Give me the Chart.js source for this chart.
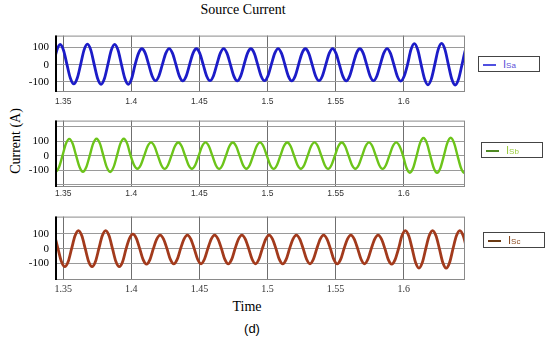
<!DOCTYPE html>
<html lang="en">
<head>
<meta charset="UTF-8">
<title>Source Current</title>
<script src="https://cdn.jsdelivr.net/npm/chart.js"></script>
<style>
  body { margin: 0; width: 550px; height: 341px; background: #fff; position: relative; overflow: hidden; }
  canvas { position: absolute; left: 0; }
  .txt { position: absolute; white-space: nowrap; text-align: center; }
  .serif { font-family: "Liberation Serif", "Times New Roman", serif; color: #000; }
  .legend { position: absolute; border: 1px solid #444; background: #fff; height: 14px; width: 60px; }
  .legend .sw { position: absolute; left: 4px; top: 7px; width: 13px; height: 2px; }
  .legend .lt { position: absolute; left: 24px; top: 0; font: 11px "Liberation Sans", Arial, sans-serif; line-height: 14px; }
  .legend small { font-size: 8px; }
</style>
</head>
<body>
  <div class="txt serif" style="left:193px; top:2px; width:100px; font-size:14px;">Source Current</div>
  <div class="txt serif" style="left:-24px; top:133px; width:80px; height:16px; font-size:14px; transform:rotate(-90deg);">Current (A)</div>
  <div class="txt serif" style="left:217px; top:299px; width:60px; font-size:14px;">Time</div>
  <div class="txt" style="left:232px; top:321px; width:40px; font:13px 'Liberation Sans', Arial, sans-serif;">(d)</div>

  <canvas id="panelA" width="470" height="89" style="top:23px"></canvas>
  <canvas id="panelB" width="470" height="99" style="top:108px"></canvas>
  <canvas id="panelC" width="470" height="96" style="top:204px"></canvas>

  <div class="legend" style="left:478px; top:56px;"><span class="sw" style="background:#5050e0"></span><span class="lt" style="color:#5a50d8">I<small>Sa</small></span></div>
  <div class="legend" style="left:481px; top:142px;"><span class="sw" style="background:#4f8a24"></span><span class="lt" style="color:#9acb3c">I<small>Sb</small></span></div>
  <div class="legend" style="left:483px; top:232px;"><span class="sw" style="background:#6b3a14"></span><span class="lt" style="color:#8a4a20">I<small>Sc</small></span></div>

<script>
// time axis
const tMin = 1.344, tMax = 1.645;
const xTicks = [1.35, 1.4, 1.45, 1.5, 1.55, 1.6];
const xTickLabels = ['1.35', '1.4', '1.45', '1.5', '1.55', '1.6'];
const yLabelTicks = [-100, 0, 100];

// Isa (one row per 20 ms cycle)
const timeA = [
  1.3428, 1.3453, 1.3478, 1.3503, 1.3528, 1.3553, 1.3578, 1.3603,
  1.3628, 1.3653, 1.3678, 1.3703, 1.3728, 1.3753, 1.3778, 1.3803,
  1.3828, 1.3853, 1.3878, 1.3903, 1.3928, 1.3953, 1.3978, 1.4003,
  1.4028, 1.4053, 1.4078, 1.4103, 1.4128, 1.4153, 1.4178, 1.4203,
  1.4228, 1.4253, 1.4278, 1.4303, 1.4328, 1.4353, 1.4378, 1.4403,
  1.4428, 1.4453, 1.4478, 1.4503, 1.4528, 1.4553, 1.4578, 1.4603,
  1.4628, 1.4653, 1.4678, 1.4703, 1.4728, 1.4753, 1.4778, 1.4803,
  1.4828, 1.4853, 1.4878, 1.4903, 1.4928, 1.4953, 1.4978, 1.5003,
  1.5028, 1.5053, 1.5078, 1.5103, 1.5128, 1.5153, 1.5178, 1.5203,
  1.5228, 1.5253, 1.5278, 1.5303, 1.5328, 1.5353, 1.5378, 1.5403,
  1.5428, 1.5453, 1.5478, 1.5503, 1.5528, 1.5553, 1.5578, 1.5603,
  1.5628, 1.5653, 1.5678, 1.5703, 1.5728, 1.5753, 1.5778, 1.5803,
  1.5828, 1.5853, 1.5878, 1.5903, 1.5928, 1.5953, 1.5978, 1.6003,
  1.6028, 1.6053, 1.6078, 1.6103, 1.6128, 1.6153, 1.6178, 1.6203,
  1.6228, 1.6253, 1.6278, 1.6303, 1.6328, 1.6353, 1.6378, 1.6403,
  1.6428, 1.6453, 1.6478
];
const isa = [
  0, 83, 118, 83, 0, -80, -113, -80,
  0, 85, 120, 85, 0, -81, -115, -81,
  0, 84, 119, 84, 0, -81, -115, -81,
  0, 66, 93, 66, 0, -66, -94, -66,
  0, 66, 94, 66, 0, -67, -95, -67,
  0, 66, 93, 66, 0, -66, -94, -66,
  0, 66, 94, 66, 0, -67, -95, -67,
  0, 66, 93, 66, 0, -66, -94, -66,
  0, 66, 94, 66, 0, -67, -95, -67,
  0, 66, 93, 66, 0, -66, -94, -66,
  0, 66, 94, 66, 0, -67, -95, -67,
  0, 66, 93, 66, 0, -66, -94, -66,
  0, 66, 94, 66, 0, -68, -96, -68,
  0, 87, 123, 87, 0, -83, -118, -83,
  0, 88, 124, 88, 0, -84, -119, -84,
  0, 86, 121
];

// Isb
const timeB = [
  1.3395, 1.3420, 1.3445, 1.3470, 1.3495, 1.3520, 1.3545, 1.3570,
  1.3595, 1.3620, 1.3645, 1.3670, 1.3695, 1.3720, 1.3745, 1.3770,
  1.3795, 1.3820, 1.3845, 1.3870, 1.3895, 1.3920, 1.3945, 1.3970,
  1.3995, 1.4020, 1.4045, 1.4070, 1.4095, 1.4120, 1.4145, 1.4170,
  1.4195, 1.4220, 1.4245, 1.4270, 1.4295, 1.4320, 1.4345, 1.4370,
  1.4395, 1.4420, 1.4445, 1.4470, 1.4495, 1.4520, 1.4545, 1.4570,
  1.4595, 1.4620, 1.4645, 1.4670, 1.4695, 1.4720, 1.4745, 1.4770,
  1.4795, 1.4820, 1.4845, 1.4870, 1.4895, 1.4920, 1.4945, 1.4970,
  1.4995, 1.5020, 1.5045, 1.5070, 1.5095, 1.5120, 1.5145, 1.5170,
  1.5195, 1.5220, 1.5245, 1.5270, 1.5295, 1.5320, 1.5345, 1.5370,
  1.5395, 1.5420, 1.5445, 1.5470, 1.5495, 1.5520, 1.5545, 1.5570,
  1.5595, 1.5620, 1.5645, 1.5670, 1.5695, 1.5720, 1.5745, 1.5770,
  1.5795, 1.5820, 1.5845, 1.5870, 1.5895, 1.5920, 1.5945, 1.5970,
  1.5995, 1.6020, 1.6045, 1.6070, 1.6095, 1.6120, 1.6145, 1.6170,
  1.6195, 1.6220, 1.6245, 1.6270, 1.6295, 1.6320, 1.6345, 1.6370,
  1.6395, 1.6420, 1.6445, 1.6470, 1.6495
];
const isb = [
  0, -78, -110, -78, 0, 81, 115, 81,
  0, -78, -111, -78, 0, 82, 116, 82,
  0, -79, -112, -79, 0, 82, 116, 82,
  0, -64, -90, -64, 0, 64, 91, 64,
  0, -64, -91, -64, 0, 64, 90, 64,
  0, -64, -90, -64, 0, 64, 91, 64,
  0, -64, -91, -64, 0, 64, 90, 64,
  0, -64, -90, -64, 0, 64, 91, 64,
  0, -64, -91, -64, 0, 64, 90, 64,
  0, -64, -90, -64, 0, 64, 91, 64,
  0, -64, -91, -64, 0, 64, 90, 64,
  0, -64, -90, -64, 0, 64, 91, 64,
  0, -64, -91, -64, 0, 64, 91, 64,
  0, -83, -117, -83, 0, 86, 121, 86,
  0, -83, -118, -83, 0, 86, 122, 86,
  0, -83, -118, -83, 0
];

// Isc
const timeC = [
  1.3412, 1.3437, 1.3462, 1.3487, 1.3512, 1.3537, 1.3562, 1.3587,
  1.3612, 1.3637, 1.3662, 1.3687, 1.3712, 1.3737, 1.3762, 1.3787,
  1.3812, 1.3837, 1.3862, 1.3887, 1.3912, 1.3937, 1.3962, 1.3987,
  1.4012, 1.4037, 1.4062, 1.4087, 1.4112, 1.4137, 1.4162, 1.4187,
  1.4212, 1.4237, 1.4262, 1.4287, 1.4312, 1.4337, 1.4362, 1.4387,
  1.4412, 1.4437, 1.4462, 1.4487, 1.4512, 1.4537, 1.4562, 1.4587,
  1.4612, 1.4637, 1.4662, 1.4687, 1.4712, 1.4737, 1.4762, 1.4787,
  1.4812, 1.4837, 1.4862, 1.4887, 1.4912, 1.4937, 1.4962, 1.4987,
  1.5012, 1.5037, 1.5062, 1.5087, 1.5112, 1.5137, 1.5162, 1.5187,
  1.5212, 1.5237, 1.5262, 1.5287, 1.5312, 1.5337, 1.5362, 1.5387,
  1.5412, 1.5437, 1.5462, 1.5487, 1.5512, 1.5537, 1.5562, 1.5587,
  1.5612, 1.5637, 1.5662, 1.5687, 1.5712, 1.5737, 1.5762, 1.5787,
  1.5812, 1.5837, 1.5862, 1.5887, 1.5912, 1.5937, 1.5962, 1.5987,
  1.6012, 1.6037, 1.6062, 1.6087, 1.6112, 1.6137, 1.6162, 1.6187,
  1.6212, 1.6237, 1.6262, 1.6287, 1.6312, 1.6337, 1.6362, 1.6387,
  1.6412, 1.6437, 1.6462
];
const isc = [
  120, 85, 0, -86, -121, -86, 0, 86,
  121, 86, 0, -86, -121, -86, 0, 86,
  121, 86, 0, -86, -121, -86, 0, 69,
  97, 69, 0, -73, -103, -73, 0, 64,
  91, 64, 0, -72, -102, -72, 0, 64,
  91, 64, 0, -71, -101, -71, 0, 64,
  91, 64, 0, -72, -102, -72, 0, 64,
  91, 64, 0, -71, -101, -71, 0, 64,
  91, 64, 0, -72, -102, -72, 0, 64,
  91, 64, 0, -71, -101, -71, 0, 64,
  91, 64, 0, -72, -102, -72, 0, 64,
  91, 64, 0, -71, -101, -71, 0, 64,
  91, 64, 0, -73, -103, -73, 0, 86,
  121, 86, 0, -92, -130, -92, 0, 86,
  121, 86, 0, -93, -131, -93, 0, 86,
  121, 86, 0
];

// grey box round the plot, black left axis
const frame = {
  id: 'frame',
  afterDatasetsDraw(chart) {
    const a = chart.chartArea, c = chart.ctx;
    c.save();
    c.strokeStyle = '#8a8a8a';
    c.lineWidth = 1;
    c.strokeRect(a.left + 0.5, a.top + 0.5, a.right - a.left - 1, a.bottom - a.top - 1);
    c.strokeStyle = '#000';
    c.lineWidth = 2;
    c.beginPath();
    c.moveTo(a.left + 1, a.top);
    c.lineTo(a.left + 1, a.bottom);
    c.stroke();
    c.restore();
  }
};

function makePanel(id, times, values, color, width, yMin, yMax, gridTicks, xFont, xPad) {
  return new Chart(document.getElementById(id), {
    type: 'line',
    data: {
      datasets: [{
        data: times.map((t, i) => ({ x: t, y: values[i] })),
        borderColor: color,
        borderWidth: width,
        pointRadius: 0,
        cubicInterpolationMode: 'monotone',
        fill: false,
        clip: 0
      }]
    },
    options: {
      responsive: false,
      animation: false,
      devicePixelRatio: 1,
      layout: { padding: { top: 5, right: 5, left: 0, bottom: 0 } },
      plugins: { legend: { display: false }, tooltip: { enabled: false } },
      scales: {
        x: {
          type: 'linear', min: tMin, max: tMax,
          afterBuildTicks: s => { s.ticks = xTicks.map(v => ({ value: v })); },
          afterFit: s => { s.height = 20; },
          ticks: { callback: (v, i) => xTickLabels[i], font: xFont, color: '#333', padding: xPad, maxRotation: 0, autoSkip: false },
          grid: { color: '#6f6f6f', drawTicks: false },
          border: { display: false }
        },
        y: {
          min: yMin, max: yMax,
          afterBuildTicks: s => { s.ticks = gridTicks.map(v => ({ value: v })); },
          afterFit: s => { s.width = 55; },
          ticks: { callback: v => yLabelTicks.includes(v) ? String(v) : '', font: { family: 'Liberation Serif', size: 11 }, color: '#000', padding: 6 },
          grid: { color: '#9a9a9a', drawTicks: false },
          border: { display: false }
        }
      }
    },
    plugins: [frame]
  });
}

const sansTick = { family: 'Liberation Sans', size: 8.5 };
const serifTick = { family: 'Liberation Serif', size: 10 };

makePanel('panelA', timeA, isa, '#1c1cc8', 2.8, -160, 170, [-100, 0, 100], sansTick, 5);
makePanel('panelB', timeB, isb, '#6cc41a', 2.4, -215, 240, [-200, -100, 0, 100, 200], sansTick, 2);
makePanel('panelC', timeC, isc, '#a23a1c', 2.8, -210, 215, [-100, 0, 100], serifTick, 3);
</script>
</body>
</html>
